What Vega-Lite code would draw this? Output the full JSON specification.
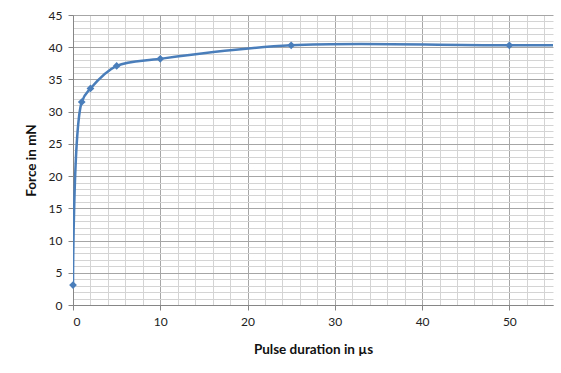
{
  "$schema": "https://vega.github.io/schema/vega-lite/v6.json",
  "width": 480,
  "height": 290,
  "autosize": {"type": "none"},
  "padding": {"left": 73, "top": 15, "right": 8, "bottom": 68},
  "background": "white",
  "config": {
    "view": {"stroke": null},
    "font": "Lato",
    "axis": {"labelFont": "Lato", "titleFont": "Lato", "labelColor": "#222", "titleColor": "#111"}
  },
  "datasets": {
    "pts": [
      {"t": 0, "f": 3.1, "marker": true},
      {"t": 1, "f": 31.5, "marker": true},
      {"t": 2, "f": 33.6, "marker": true},
      {"t": 5, "f": 37.1, "marker": true},
      {"t": 10, "f": 38.2, "marker": true},
      {"t": 25, "f": 40.3, "marker": true},
      {"t": 50, "f": 40.3, "marker": true},
      {"t": 100, "f": 40.3, "marker": false}
    ]
  },
  "data": {"name": "pts"},
  "resolve": {"axis": {"x": "independent", "y": "independent"}},
  "layer": [
    {
      "mark": {"type": "rule", "opacity": 0},
      "encoding": {
        "x": {"field": "t", "type": "quantitative", "scale": {"domain": [0, 55], "nice": false},
          "axis": {"orient": "bottom", "values": [0,2,4,6,8,10,12,14,16,18,20,22,24,26,28,30,32,34,36,38,40,42,44,46,48,50,52,54], "grid": true, "gridColor": "#d4d4d4", "gridWidth": 1, "labels": false, "ticks": false, "domain": false, "title": null}},
        "y": {"field": "f", "type": "quantitative", "scale": {"domain": [0, 45], "nice": false},
          "axis": {"orient": "left", "values": [1,2,3,4,6,7,8,9,11,12,13,14,16,17,18,19,21,22,23,24,26,27,28,29,31,32,33,34,36,37,38,39,41,42,43,44], "grid": true, "gridColor": "#d4d4d4", "gridWidth": 1, "labels": false, "ticks": false, "domain": false, "title": null}}
      }
    },
    {
      "mark": {"type": "rule", "opacity": 0},
      "encoding": {
        "x": {"field": "t", "type": "quantitative",
          "axis": {"orient": "bottom", "values": [0,10,20,30,40,50], "grid": true, "gridColor": "#a6a6a6", "gridWidth": 1, "domain": true, "domainColor": "#868686", "ticks": true, "tickColor": "#868686", "tickSize": 5, "labelFontSize": 12, "labelPadding": 6, "title": "Pulse duration in µs", "titleFontSize": 13.5, "titleFontWeight": "bold", "titlePadding": 15}},
        "y": {"field": "f", "type": "quantitative",
          "axis": {"orient": "left", "values": [0,5,10,15,20,25,30,35,40,45], "grid": true, "gridColor": "#a6a6a6", "gridWidth": 1, "domain": true, "domainColor": "#868686", "ticks": true, "tickColor": "#868686", "tickSize": 5, "labelFontSize": 12, "labelPadding": 6, "title": "Force in mN", "titleFontSize": 13.5, "titleFontWeight": "bold", "titlePadding": 10}}
      }
    },
    {
      "mark": {"type": "line", "interpolate": "catmull-rom", "color": "#4a7ebb", "strokeWidth": 2.5, "clip": true},
      "encoding": {
        "x": {"field": "t", "type": "quantitative", "axis": null},
        "y": {"field": "f", "type": "quantitative", "axis": null}
      }
    },
    {
      "transform": [{"filter": "datum.marker"}],
      "mark": {"type": "point", "shape": "diamond", "filled": true, "color": "#4a7ebb", "size": 60, "opacity": 1},
      "encoding": {
        "x": {"field": "t", "type": "quantitative", "axis": null},
        "y": {"field": "f", "type": "quantitative", "axis": null}
      }
    }
  ]
}
